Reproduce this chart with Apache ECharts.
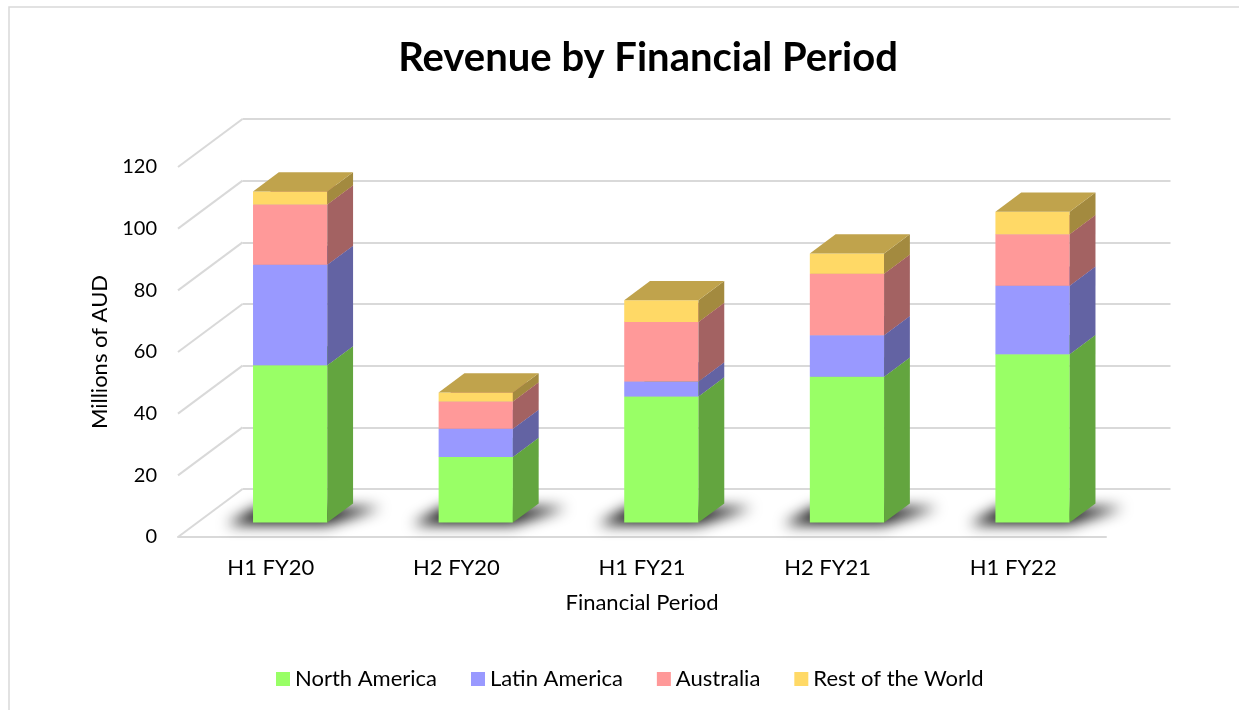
<!DOCTYPE html>
<html>
<head>
<meta charset="utf-8">
<title>Revenue by Financial Period</title>
<script src="https://cdn.jsdelivr.net/npm/echarts@6/dist/echarts.min.js"></script>
<style>
  html, body { margin: 0; padding: 0; background: #fff; }
  #chart { width: 1239px; height: 710px; }
</style>
</head>
<body>
<div id="chart"></div>
<script>
// data
var categories = ['H1 FY20', 'H2 FY20', 'H1 FY21', 'H2 FY21', 'H1 FY22'];
var northAmerica = [51.0, 21.3, 40.9, 47.3, 54.6];
var latinAmerica = [32.6, 9.1, 4.9, 13.5, 22.2];
var australia = [19.6, 8.9, 19.3, 19.9, 16.7];
var restOfWorld = [4.2, 2.9, 7.0, 6.6, 7.3];
var yTicks = [0, 20, 40, 60, 80, 100, 120];

// fake 3d: depth offset of the back wall (px), bar sits between depth D0 and D1
var DX = 64.5, DY = -48;
var D0 = 0.3, D1 = 0.7;
var BAR_W = 0.4;
var FONT = 'Lato';

var myChart = echarts.init(document.getElementById('chart'));

function boxItem(front, side, top) {
    return function (params, api) {
        var cat = api.value(0), val = api.value(1), base = api.value(2);
        var c0 = api.coord([cat, base]);
        var c1 = api.coord([cat, base + val]);
        var w = api.size([1, 0])[0] * BAR_W;
        var x0 = c0[0] - w / 2 + DX * D0, x1 = x0 + w;
        var yb = c0[1] + DY * D0, yt = c1[1] + DY * D0;
        var ox = DX * (D1 - D0), oy = DY * (D1 - D0);
        return {
            type: 'group',
            children: [
                { type: 'polygon', shape: { points: [[x0, yb], [x1, yb], [x1, yt], [x0, yt]] }, style: { fill: front } },
                { type: 'polygon', shape: { points: [[x1, yb], [x1 + ox, yb + oy], [x1 + ox, yt + oy], [x1, yt]] }, style: { fill: side } },
                { type: 'polygon', shape: { points: [[x0, yt], [x1, yt], [x1 + ox, yt + oy], [x0 + ox, yt + oy]] }, style: { fill: top } }
            ]
        };
    };
}

// stack the values by hand so each box knows its base
var stackBase = categories.map(function () { return 0; });
function stackData(values) {
    return values.map(function (v, i) {
        var b = stackBase[i];
        stackBase[i] += v;
        return [i, v, b];
    });
}

function boxSeries(name, values, front, side, top) {
    return {
        name: name,
        type: 'custom',
        xAxisIndex: 0,
        yAxisIndex: 0,
        itemStyle: { color: front },
        renderItem: boxItem(front, side, top),
        data: stackData(values),
        z: 5
    };
}

var option = {
    backgroundColor: '#fff',
    animation: false,
    title: {
        text: 'Revenue by Financial Period',
        left: 643,
        top: 33,
        textAlign: 'center',
        textStyle: { fontFamily: FONT, fontSize: 40, fontWeight: 'bold', color: '#000' }
    },
    legend: {
        left: 271,
        top: 663,
        itemWidth: 14,
        itemHeight: 14,
        itemGap: 34,
        icon: 'rect',
        textStyle: { fontFamily: FONT, fontSize: 22, color: '#000' },
        data: ['North America', 'Latin America', 'Australia', 'Rest of the World']
    },
    graphic: [{
        type: 'rect',
        shape: { x: 9, y: 7, width: 1300, height: 800 },
        style: { fill: 'none', stroke: '#d9d9d9', lineWidth: 1.5 },
        silent: true
    }],
    grid: [
        // front plane
        { left: 178, right: 133, top: 167, bottom: 173 },
        // back wall
        { left: 178 + DX, right: 133 - DX, top: 167 + DY, bottom: 173 - DY }
    ],
    xAxis: [{
        type: 'category',
        gridIndex: 0,
        data: categories,
        name: 'Financial Period',
        nameLocation: 'middle',
        nameGap: 55,
        nameTextStyle: { fontFamily: FONT, fontSize: 22, color: '#000' },
        axisLine: { show: true, lineStyle: { color: '#d9d9d9', width: 2 } },
        axisTick: { show: false },
        axisLabel: { fontFamily: FONT, fontSize: 22, color: '#000', margin: 20 }
    }, {
        type: 'category',
        gridIndex: 1,
        data: categories,
        show: false
    }],
    yAxis: [{
        type: 'value',
        gridIndex: 0,
        min: 0,
        max: 120,
        interval: 20,
        name: 'Millions of AUD',
        nameLocation: 'middle',
        nameGap: 67,
        nameTextStyle: { fontFamily: FONT, fontSize: 22, color: '#000' },
        axisLine: { show: false },
        axisTick: { show: false },
        splitLine: { show: false },
        axisLabel: { fontFamily: FONT, fontSize: 20, color: '#000', margin: 21 }
    }, {
        type: 'value',
        gridIndex: 1,
        min: 0,
        max: 120,
        interval: 20,
        axisLine: { show: false },
        axisTick: { show: false },
        axisLabel: { show: false },
        splitLine: { show: true, lineStyle: { color: '#d9d9d9', width: 2 } }
    }],
    series: [
        {
            // side wall lines joining front and back at each tick
            type: 'custom',
            xAxisIndex: 0,
            yAxisIndex: 0,
            silent: true,
            renderItem: function (params, api) {
                var y = api.coord([0, api.value(0)])[1];
                var x = params.coordSys.x;
                return {
                    type: 'line',
                    shape: { x1: x, y1: y, x2: x + DX, y2: y + DY },
                    style: { stroke: '#d9d9d9', lineWidth: 2 }
                };
            },
            data: yTicks.map(function (t) { return [t]; }),
            z: 1
        },
        {
            // soft floor shadow under each bar
            type: 'custom',
            xAxisIndex: 0,
            yAxisIndex: 0,
            silent: true,
            renderItem: function (params, api) {
                var c = api.coord([api.value(0), 0]);
                var w = api.size([1, 0])[0] * BAR_W;
                var x0 = c[0] - w / 2 + DX * D0, x1 = x0 + w;
                var yb = c[1] + DY * D0;
                var ox = DX * (D1 - D0), oy = DY * (D1 - D0);
                var off = 3000;
                return {
                    type: 'polygon',
                    shape: { points: [[x0 - 26 - off, yb + 2], [x1 - off, yb + 2], [x1 + ox + 28 - off, yb + oy + 4], [x0 + ox - 22 - off, yb + oy + 4]] },
                    style: { fill: '#000', shadowBlur: 14, shadowColor: 'rgba(0,0,0,0.95)', shadowOffsetX: off }
                };
            },
            data: categories.map(function (c, i) { return [i]; }),
            z: 2
        },
        boxSeries('North America', northAmerica, '#99FF66', '#63A53F', '#7FCC52'),
        boxSeries('Latin America', latinAmerica, '#9999FF', '#6363A3', '#7A7ACC'),
        boxSeries('Australia', australia, '#FF9999', '#A36262', '#CC7A7A'),
        boxSeries('Rest of the World', restOfWorld, '#FFD966', '#A38A3F', '#C0A34C')
    ]
};

myChart.setOption(option);
</script>
</body>
</html>
